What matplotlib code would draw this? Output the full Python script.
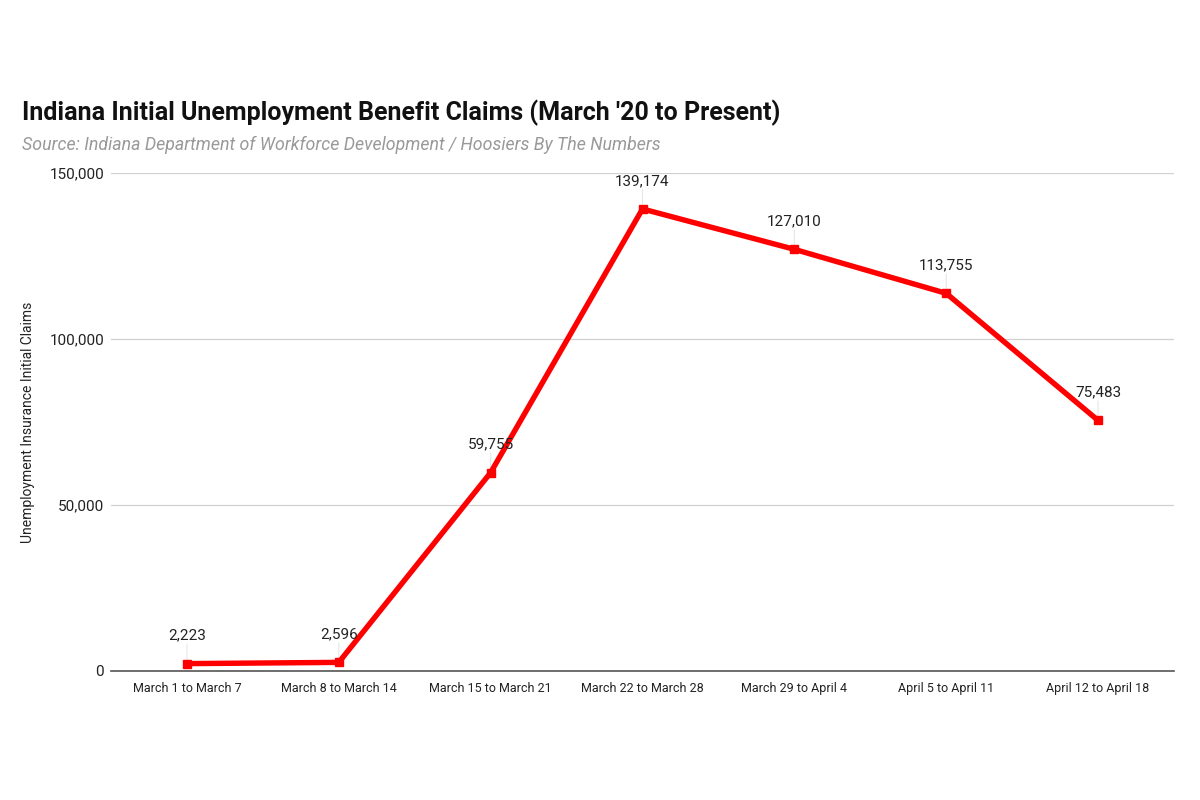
import matplotlib.pyplot as plt

plt.rcParams['font.family'] = ['Roboto', 'DejaVu Sans']

weeks = ['March 1 to March 7', 'March 8 to March 14', 'March 15 to March 21',
         'March 22 to March 28', 'March 29 to April 4', 'April 5 to April 11',
         'April 12 to April 18']
claims = [2223, 2596, 59755, 139174, 127010, 113755, 75483]
yticks = [0, 50000, 100000, 150000]

fig = plt.figure(figsize=(12, 8), dpi=100)
ax = fig.add_axes([111 / 1200, 1 - 671 / 800, (1174 - 111) / 1200, (671 - 173) / 800])

x = list(range(len(weeks)))
ax.plot(x, claims, color='#ff0000', lw=3.9, marker='s', ms=6, zorder=4,
        solid_joinstyle='miter')

for xi, v in zip(x, claims):
    ax.annotate(f'{v:,}', (xi, v), xytext=(0, 15), textcoords='offset points',
                ha='center', va='bottom', fontsize=11, color='#222222', zorder=5)
    ax.annotate('', (xi, v), xytext=(0, 14), textcoords='offset points',
                arrowprops=dict(arrowstyle='-', color='#e6e6e6', lw=0.8,
                                shrinkA=0, shrinkB=0), zorder=2)

ax.set_xlim(-0.5, len(weeks) - 0.5)
ax.set_ylim(0, 150000)
ax.set_yticks(yticks)
ax.set_yticklabels([f'{t:,}' for t in yticks], fontsize=11, color='#222222')
ax.set_xticks(x)
ax.set_xticklabels(weeks, fontsize=9, color='#222222')
ax.tick_params(length=0, pad=8)
ax.tick_params(axis='y', pad=5)
ax.grid(axis='y', color='#d0d0d0', lw=0.9)
ax.set_axisbelow(True)
for s in ['top', 'right', 'left']:
    ax.spines[s].set_visible(False)
ax.spines['bottom'].set_color('#555555')
ax.spines['bottom'].set_linewidth(1.2)

ax.set_ylabel('Unemployment Insurance Initial Claims', fontsize=10, color='#222222',
              labelpad=10)

fig.text(22 / 1200, 1 - 113 / 800, "Indiana Initial Unemployment Benefit Claims (March '20 to Present)",
         fontsize=18, fontweight='bold', color='#111111', va='center', ha='left')
fig.text(22 / 1200, 1 - 145 / 800, 'Source: Indiana Department of Workforce Development / Hoosiers By The Numbers',
         fontsize=12.8, style='italic', color='#999999', va='center', ha='left')

fig.savefig('out.png', dpi=100, facecolor='white')
